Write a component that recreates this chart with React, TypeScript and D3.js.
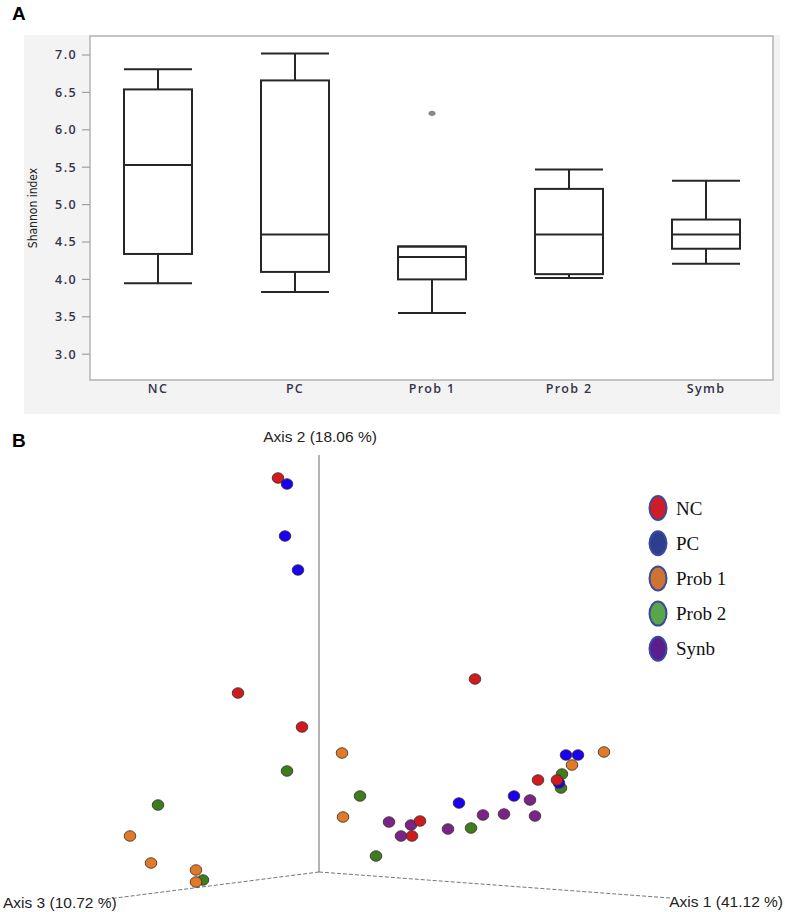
import React from "react";
import * as d3 from "d3";

// ---------- Panel A data ----------
const categories = ["NC", "PC", "Prob 1", "Prob 2", "Symb"];
const whiskerLow = [3.95, 3.83, 3.55, 4.02, 4.21];
const q1 = [4.34, 4.1, 4.0, 4.07, 4.41];
const medians = [5.53, 4.6, 4.3, 4.6, 4.6];
const q3 = [6.54, 6.66, 4.44, 5.21, 4.8];
const whiskerHigh = [6.81, 7.02, 4.44, 5.47, 5.32];
const outliers = [{ cat: "Prob 1", value: 6.22 }];
const yTicks = [3.0, 3.5, 4.0, 4.5, 5.0, 5.5, 6.0, 6.5, 7.0];

// ---------- Panel B data (projected PCoA coordinates) ----------
const groups = ["NC", "PC", "Prob 1", "Prob 2", "Synb"];
const pointColors: Record<string, string> = {
  NC: "#cf1b1d",
  PC: "#1a00f2",
  "Prob 1": "#e07a26",
  "Prob 2": "#3c7d1c",
  Synb: "#7a2389",
};
const legendColors = ["#d01c24", "#2d3e8c", "#cf7330", "#58a64a", "#5a1e8e"];
const pcoaPoints: [string, number, number][] = [
  ["NC", -0.41, 3.94],
  ["Prob 2", -0.32, 1.01],
  ["Prob 2", 0.41, 0.76],
  ["Prob 2", -1.61, 0.67],
  ["Prob 2", 0.57, 0.16],
  ["Prob 2", -1.16, -0.08],
  ["Prob 2", 2.43, 0.98],
  ["Prob 2", 2.42, 0.84],
  ["Prob 2", 1.52, 0.44],
  ["Synb", 0.7, 0.5],
  ["Synb", 0.82, 0.36],
  ["Synb", 2.11, 0.72],
  ["Synb", 1.64, 0.57],
  ["Synb", 1.85, 0.58],
  ["Synb", 2.16, 0.56],
  ["Synb", 0.92, 0.47],
  ["Synb", 1.29, 0.43],
  ["Prob 1", 0.23, 1.19],
  ["Prob 1", 0.24, 0.55],
  ["Prob 1", -1.89, 0.36],
  ["Prob 1", -1.68, 0.09],
  ["Prob 1", -1.23, 0.02],
  ["Prob 1", -1.23, -0.1],
  ["Prob 1", 2.85, 1.2],
  ["Prob 1", 2.53, 1.07],
  ["PC", -0.32, 3.88],
  ["PC", -0.34, 3.36],
  ["PC", -0.21, 3.02],
  ["PC", 2.47, 1.17],
  ["PC", 2.59, 1.17],
  ["PC", 2.4, 0.89],
  ["PC", 1.95, 0.76],
  ["PC", 1.4, 0.69],
  ["NC", -0.81, 1.79],
  ["NC", -0.17, 1.45],
  ["NC", 1.56, 1.93],
  ["NC", 2.19, 0.92],
  ["NC", 2.38, 0.92],
  ["NC", 1.01, 0.51],
  ["NC", 0.93, 0.36],
];
// axis end points in projected units
const axisOrigin = [0, 0];
const axis2End = [0, 4.17];
const axis3End = [-2.19, -0.28];
const axis1End = [3.51, -0.26];

export default function App() {
  const W = 785;
  const H = 912;

  // Panel A scales
  const y = d3.scaleLinear().domain([2.655, 7.254]).range([380, 36]);
  const x = d3.scalePoint<string>().domain(categories).range([158, 706]);
  const bw = 68;
  const plotL = 90,
    plotR = 773,
    plotT = 36,
    plotB = 380;

  // Panel B scales
  const px = d3.scaleLinear().domain([-3.19, 4.66]).range([0, W]);
  const py = d3.scaleLinear().domain([8.72, -0.4]).range([0, H]);

  const tickFont = "'Open Sans', 'DejaVu Sans', sans-serif";

  return (
    <svg
      width={W}
      height={H}
      style={{ position: "absolute", left: 0, top: 0, background: "#fff" }}
    >
      {/* Panel A */}
      <text x={12} y={20} fontFamily="'Liberation Sans', Arial, sans-serif" fontWeight="bold" fontSize={19} fill="#000">
        A
      </text>
      <rect x={24} y={35} width={756} height={379} fill="#f3f3f3" />
      <rect x={plotL} y={plotT} width={plotR - plotL} height={plotB - plotT} fill="#fff" stroke="#b4b4b4" strokeWidth={1.5} />
      {yTicks.map((t) => (
        <g key={t}>
          <line x1={82} x2={plotL} y1={y(t)} y2={y(t)} stroke="#a0a0a0" strokeWidth={1.2} />
          <text
            x={77}
            y={y(t)}
            dy="0.36em"
            textAnchor="end"
            fontFamily={tickFont}
            fontWeight={600}
            fontSize={12.5}
            letterSpacing={1.4}
            fill="#33334a"
          >
            {t.toFixed(1)}
          </text>
        </g>
      ))}
      <text
        transform={`translate(37,${(plotT + plotB) / 2}) rotate(-90)`}
        textAnchor="middle"
        fontFamily="'Liberation Sans Narrow', 'DejaVu Sans Condensed', sans-serif"
        fontSize={12}
        fill="#222"
      >
        Shannon index
      </text>
      {categories.map((c, i) => {
        const cx = x(c)!;
        return (
          <g key={c} stroke="#262626" strokeWidth={2} fill="none">
            <line x1={cx} x2={cx} y1={y(whiskerHigh[i])} y2={y(q3[i])} />
            <line x1={cx} x2={cx} y1={y(q1[i])} y2={y(whiskerLow[i])} />
            <line x1={cx - bw / 2} x2={cx + bw / 2} y1={y(whiskerHigh[i])} y2={y(whiskerHigh[i])} />
            <line x1={cx - bw / 2} x2={cx + bw / 2} y1={y(whiskerLow[i])} y2={y(whiskerLow[i])} />
            <rect x={cx - bw / 2} y={y(q3[i])} width={bw} height={y(q1[i]) - y(q3[i])} />
            <line x1={cx - bw / 2} x2={cx + bw / 2} y1={y(medians[i])} y2={y(medians[i])} />
            <text
              x={cx}
              y={388}
              dy="0.36em"
              textAnchor="middle"
              fontFamily={tickFont}
              fontWeight={600}
              fontSize={12.5}
              letterSpacing={1.3}
              fill="#33334a"
              stroke="none"
            >
              {c}
            </text>
          </g>
        );
      })}
      {outliers.map((o, i) => (
        <ellipse key={i} cx={x(o.cat)!} cy={y(o.value)} rx={3.5} ry={2.6} fill="#8a8a8a" />
      ))}

      {/* Panel B */}
      <text x={12} y={447} fontFamily="'Liberation Sans', Arial, sans-serif" fontWeight="bold" fontSize={19} fill="#000">
        B
      </text>
      <line
        x1={px(axisOrigin[0])}
        y1={py(axisOrigin[1])}
        x2={px(axis2End[0])}
        y2={py(axis2End[1])}
        stroke="#666"
        strokeWidth={1}
      />
      <line
        x1={px(axisOrigin[0])}
        y1={py(axisOrigin[1])}
        x2={px(axis3End[0])}
        y2={py(axis3End[1])}
        stroke="#777"
        strokeWidth={1}
        strokeDasharray="4,2"
      />
      <line
        x1={px(axisOrigin[0])}
        y1={py(axisOrigin[1])}
        x2={px(axis1End[0])}
        y2={py(axis1End[1])}
        stroke="#777"
        strokeWidth={1}
        strokeDasharray="4,2"
      />
      <text x={320} y={442} textAnchor="middle" fontFamily="'Liberation Sans', Arial, sans-serif" fontSize={15.5} fill="#222">
        Axis 2 (18.06 %)
      </text>
      <text x={3} y={908} fontFamily="'Liberation Sans', Arial, sans-serif" fontSize={15.5} fill="#222">
        Axis 3 (10.72 %)
      </text>
      <text x={783} y={907} textAnchor="end" fontFamily="'Liberation Sans', Arial, sans-serif" fontSize={15.5} fill="#222">
        Axis 1 (41.12 %)
      </text>
      {pcoaPoints.map(([g, u, v], i) => (
        <ellipse
          key={i}
          cx={px(u)}
          cy={py(v)}
          rx={5.8}
          ry={5.3}
          fill={pointColors[g]}
          stroke="#3a2a2a"
          strokeWidth={0.8}
        />
      ))}
      {groups.map((g, i) => (
        <g key={g}>
          <ellipse cx={658} cy={508 + i * 35.2} rx={8.5} ry={12} fill={legendColors[i]} stroke="#3b4aa0" strokeWidth={2} />
          <text
            x={676}
            y={508 + i * 35.2}
            dy="0.35em"
            fontFamily="'Liberation Serif', 'Times New Roman', serif"
            fontSize={19}
            fill="#111"
          >
            {g}
          </text>
        </g>
      ))}
    </svg>
  );
}
